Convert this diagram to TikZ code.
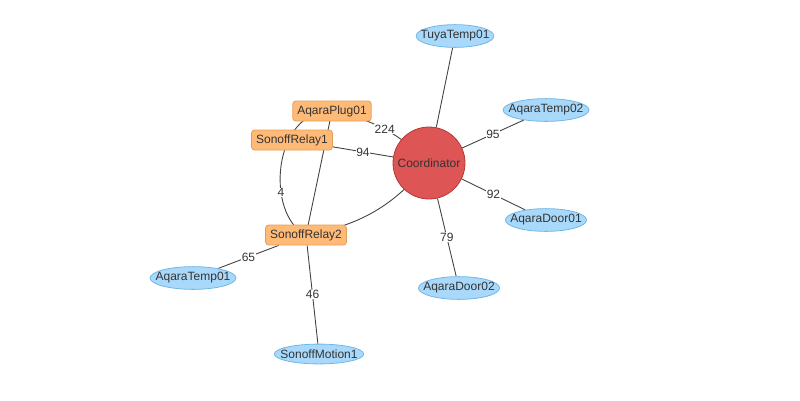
\documentclass[tikz,border=0pt]{standalone}
\usepackage{fontspec}
\setmainfont{Liberation Sans}
\usetikzlibrary{shapes.geometric, backgrounds}
\definecolor{devfill}{HTML}{A9D9FA}
\definecolor{devline}{HTML}{72B6E6}
\definecolor{relfill}{HTML}{FFBA78}
\definecolor{relline}{HTML}{E39E55}
\definecolor{hubfill}{HTML}{DE5555}
\definecolor{hubline}{HTML}{B93636}
\definecolor{txtcol}{HTML}{333333}
\definecolor{linkcol}{HTML}{444444}
\tikzset{>=latex,
  device/.style={ellipse, draw=devline, fill=devfill, line width=0.8pt,
    inner xsep=-7pt, inner ysep=2.6pt},
  relay/.style={rectangle, rounded corners=3pt, draw=relline, fill=relfill,
    line width=0.8pt, inner xsep=4.5pt, inner ysep=0pt, minimum height=20pt},
  hub/.style={circle, draw=hubline, fill=hubfill, line width=0.8pt,
    minimum size=72pt, inner sep=0pt},
  rssi/.style={fill=white, inner sep=0.6pt, text=txtcol}}

\begin{document}
\begin{tikzpicture}[x=1pt, y=-1pt, font=\fontsize{12}{14}\selectfont]
    \useasboundingbox (0,0) rectangle (800,400);
    \begin{scope}[every node/.style={text=txtcol}]
      \node[hub] (coord) at (429,163) {Coordinator};
      \node[device] (tuya) at (455,36) {TuyaTemp01};
      \node[device] (temp2) at (546,110) {AqaraTemp02};
      \node[device] (door1) at (546,220) {AqaraDoor01};
      \node[device] (door2) at (459,288) {AqaraDoor02};
      \node[device] (temp1) at (193,278) {AqaraTemp01};
      \node[device] (motion) at (319,354) {SonoffMotion1};
      \node[relay] (plug) at (332,111) {AqaraPlug01};
      \node[relay] (relay1) at (292,140) {SonoffRelay1};
      \node[relay] (relay2) at (306,235) {SonoffRelay2};
    \end{scope}
    \begin{pgfonlayer}{background}
    \begin{scope}[every node/.style={rssi},
                  every edge/.style={draw=linkcol, line width=0.9pt}]
      \path (coord) edge (tuya);
      \path (coord) edge node {95} (temp2);
      \path (coord) edge node {92} (door1);
      \path (coord) edge node {79} (door2);
      \path (plug.center) edge[bend left=16] node {224} (coord.center);
      \path (relay1) edge node {94} (coord);
      \path (coord.center) edge[bend left=20] (relay2.center);
      \path (plug.center) edge (relay2.center);
      \path (relay2) edge node {65} (temp1);
      \path (relay2) edge node {46} (motion);
      \draw[linkcol, line width=0.9pt] (plug.center) .. controls (272,110) and (265,215) .. node[pos=0.66] {4} (relay2.center);
    \end{scope}
    \end{pgfonlayer}
  \end{tikzpicture}
\end{document}
